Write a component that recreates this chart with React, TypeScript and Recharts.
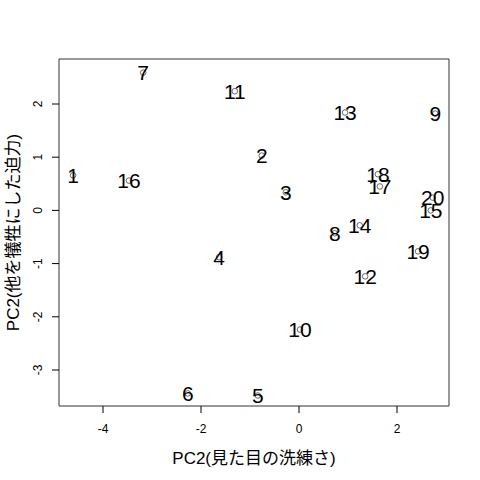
import { ScatterChart, Scatter, XAxis, YAxis, ReferenceArea } from 'recharts';

// sample labels and their PCA scores
const labels = ['1', '2', '3', '4', '5', '6', '7', '8', '9', '10', '11', '12', '13', '14', '15', '16', '17', '18', '19', '20'];
const pcX = [-4.61, -0.76, -0.27, -1.63, -0.84, -2.27, -3.18, 0.73, 2.78, 0.02, -1.31, 1.35, 0.94, 1.24, 2.69, -3.47, 1.65, 1.61, 2.43, 2.73];
const pcY = [0.66, 1.03, 0.34, -0.88, -3.48, -3.44, 2.59, -0.43, 1.82, -2.24, 2.24, -1.24, 1.84, -0.28, 0.0, 0.56, 0.45, 0.68, -0.77, 0.24];

const xTicks = [-4, -2, 0, 2];
const yTicks = [-3, -2, -1, 0, 1, 2];
const xDomain = [-4.898, 3.061];
const yDomain = [-3.677, 2.846];

const data = labels.map((label, i) => ({ label, x: pcX[i], y: pcY[i] }));

const FONT = '"Liberation Sans", Arial, "Noto Sans CJK JP", sans-serif';

const PointLabel = (props: any) => {
  const { cx, cy, payload } = props;
  return (
    <g>
      <circle cx={cx} cy={cy} r={2.8} fill="none" stroke="#444" strokeWidth={0.8} />
      <text x={cx} y={cy} dy="0.36em" textAnchor="middle" fontSize={21} fill="#000" fontFamily={FONT}>
        {payload.label}
      </text>
    </g>
  );
};

const XTick = ({ x, y, payload }: any) => (
  <text x={x} y={y} dy={20} textAnchor="middle" fontSize={12} fill="#000" fontFamily={FONT}>
    {payload.value}
  </text>
);

const YTick = ({ x, y, payload }: any) => (
  <text
    x={x - 10}
    y={y}
    textAnchor="middle"
    fontSize={12}
    fill="#000"
    fontFamily={FONT}
    transform={`rotate(-90, ${x - 10}, ${y})`}
  >
    {payload.value}
  </text>
);

export default function App() {
  return (
    <div style={{ position: 'absolute', left: 0, top: 0, background: '#fff' }}>
      <ScatterChart width={480} height={480} margin={{ top: 59, right: 31, bottom: 0, left: 0 }}>
        <XAxis
          type="number"
          dataKey="x"
          domain={xDomain}
          ticks={xTicks}
          axisLine={false}
          tickLine={{ stroke: '#000' }}
          tickSize={7}
          tickMargin={0}
          height={74}
          tick={<XTick />}
          label={{ value: 'PC2(見た目の洗練さ)', position: 'insideBottom', offset: 16, fontSize: 17, fill: '#000', fontFamily: FONT }}
        />
        <YAxis
          type="number"
          dataKey="y"
          domain={yDomain}
          ticks={yTicks}
          axisLine={false}
          tickLine={{ stroke: '#000' }}
          tickSize={7}
          tickMargin={0}
          width={59}
          tick={<YTick />}
          label={{ value: 'PC2(他を犠牲にした迫力)', angle: -90, position: 'insideLeft', offset: 13, fontSize: 17, fill: '#000', fontFamily: FONT, style: { textAnchor: 'middle' } }}
        />
        <ReferenceArea x1={xDomain[0]} x2={xDomain[1]} y1={yDomain[0]} y2={yDomain[1]} fill="none" stroke="#333" strokeWidth={1} />
        <Scatter data={data} shape={<PointLabel />} isAnimationActive={false} />
      </ScatterChart>
    </div>
  );
}
